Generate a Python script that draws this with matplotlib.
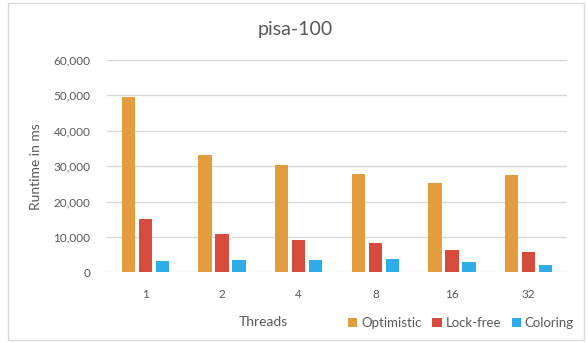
import matplotlib
matplotlib.use("Agg")
import matplotlib.pyplot as plt
import numpy as np
from matplotlib.patches import Rectangle

categories = ["1", "2", "4", "8", "16", "32"]
optimistic = [49500, 33200, 30300, 27800, 25200, 27400]
lockfree = [15100, 10800, 9000, 8300, 6200, 5700]
coloring = [3100, 3500, 3500, 3900, 2900, 2200]
series_names = ["Optimistic", "Lock-free", "Coloring"]
colors = ["#E39D3E", "#D64B3C", "#2FADE8"]
yticks = [0, 10000, 20000, 30000, 40000, 50000, 60000]

plt.rcParams['font.family'] = ['Lato', 'DejaVu Sans']
txt = "#595959"

fig = plt.figure(figsize=(5.88, 3.43), dpi=100)
ax = fig.add_axes([107/588, 1-272.3/343, 460/588, 212.3/343])

x = np.arange(len(categories))
w = 0.173
step = 0.222
for i, (vals, c, n) in enumerate(zip([optimistic, lockfree, coloring], colors, series_names)):
    ax.bar(x + (i-1)*step, vals, width=w, color=c, label=n, zorder=3)

ax.set_xlim(-0.5, len(categories)-0.5)
ax.set_ylim(0, 60000)
ax.set_yticks(yticks)
ax.set_yticklabels([f"{v:,}" for v in yticks])
ax.set_xticks(x)
ax.set_xticklabels(categories)
ax.grid(axis='y', color='#d9d9d9', linewidth=1, zorder=0)
for s in ax.spines.values():
    s.set_visible(False)
ax.tick_params(axis='both', length=0, colors=txt, labelsize=8.5)
ax.tick_params(axis='x', pad=12)
ax.tick_params(axis='y', pad=12)
ax.set_ylabel("Runtime in ms", color=txt, fontsize=10, labelpad=8)
fig.text(263/588, 1-322/343, "Threads", color=txt, fontsize=10, ha='center', va='center')
fig.text(295/588, 1-30/343, "pisa-100", color=txt, fontsize=14, ha='center', va='center')

leg = fig.legend(loc='center', bbox_to_anchor=(461/588, 1-323/343), ncol=3, frameon=False,
                 fontsize=9.5, handlelength=0.7, handleheight=0.7, handletextpad=0.3,
                 columnspacing=0.8, labelcolor=txt)

fig.patches.append(Rectangle((8/588, 3/343), 576/588, 337/343, transform=fig.transFigure,
                             fill=False, edgecolor='#d9d9d9', linewidth=1))
fig.savefig("out.png", dpi=100)
